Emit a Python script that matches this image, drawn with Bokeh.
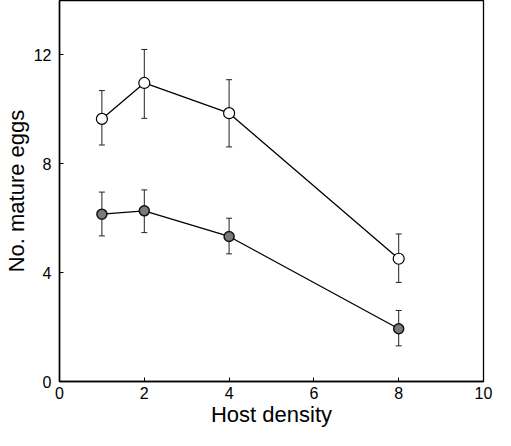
from bokeh.plotting import figure
from bokeh.models import ColumnDataSource, Whisker, Range1d, FixedTicker, TeeHead
from bokeh.embed import file_html
from bokeh.resources import INLINE

density = [1, 2, 4, 8]
open_mean = [9.65, 10.97, 9.86, 4.51]
open_upper = [10.69, 12.2, 11.09, 5.42]
open_lower = [8.69, 9.67, 8.62, 3.64]
filled_mean = [6.15, 6.27, 5.33, 1.94]
filled_upper = [6.96, 7.04, 6.0, 2.61]
filled_lower = [5.35, 5.47, 4.69, 1.31]
x_ticks = [0, 2, 4, 6, 8, 10]
y_ticks = [0, 4, 8, 12]

FONT = "Liberation Sans"

p = figure(width=495, height=430, output_backend="svg", toolbar_location=None,
           x_range=Range1d(0, 10), y_range=Range1d(0, 14),
           min_border_left=54, min_border_right=12, min_border_top=0, min_border_bottom=49)
p.xgrid.visible = False
p.ygrid.visible = False
p.outline_line_color = "black"
p.outline_line_width = 1.3
p.background_fill_color = "white"
p.border_fill_color = "white"

for ax in (p.xaxis[0], p.yaxis[0]):
    ax.axis_line_width = 1.5
    ax.axis_line_color = "black"
    ax.major_tick_in = 4
    ax.major_tick_out = 0
    ax.minor_tick_line_color = None
    ax.major_tick_line_color = "black"
    ax.major_label_text_font = FONT
    ax.major_label_text_font_size = "16px"
    ax.major_label_text_color = "black"
    ax.axis_label_text_font = FONT
    ax.axis_label_text_font_size = "22px"
    ax.axis_label_text_font_style = "normal"
    ax.axis_label_text_color = "black"

p.xaxis.ticker = FixedTicker(ticks=x_ticks)
p.yaxis.ticker = FixedTicker(ticks=y_ticks)
p.xaxis.axis_label = "Host density"
p.yaxis.axis_label = "No. mature eggs"
p.xaxis.major_label_standoff = 5
p.yaxis.major_label_standoff = 8
p.xaxis.axis_label_standoff = 0
p.yaxis.axis_label_standoff = 2

src_open = ColumnDataSource(dict(x=density, y=open_mean, lo=open_lower, hi=open_upper))
src_fill = ColumnDataSource(dict(x=density, y=filled_mean, lo=filled_lower, hi=filled_upper))

for src in (src_open, src_fill):
    w = Whisker(source=src, base="x", lower="lo", upper="hi", line_color="#222222", line_width=1,
                upper_head=TeeHead(size=6, line_color="#222222", line_width=1),
                lower_head=TeeHead(size=6, line_color="#222222", line_width=1))
    p.add_layout(w)
    p.line("x", "y", source=src, line_color="black", line_width=1.3)

p.scatter("x", "y", source=src_open, size=11, fill_color="white", line_color="black", line_width=1.2)
p.scatter("x", "y", source=src_fill, size=10, fill_color="#7a7a7a", line_color="#111111", line_width=1.5)

open("out.html", "w").write(file_html(p, INLINE))
